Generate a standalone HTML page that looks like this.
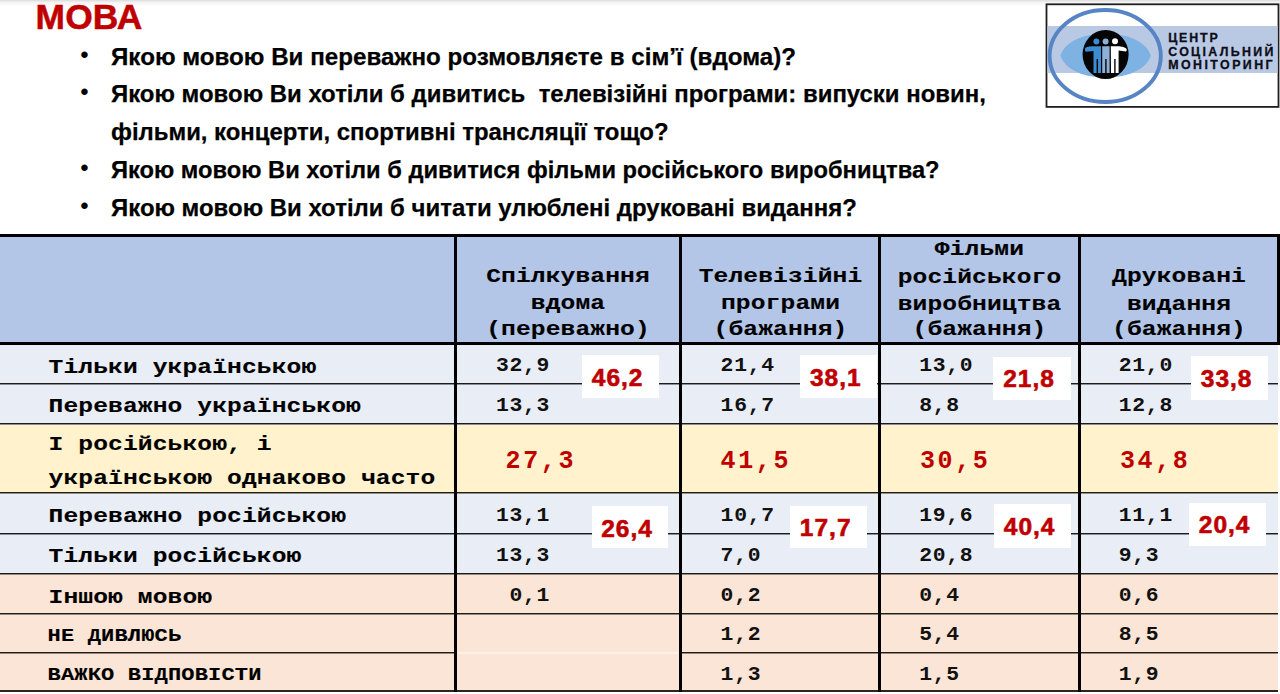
<!DOCTYPE html>
<html><head><meta charset="utf-8"><style>
html,body{margin:0;padding:0;}
body{width:1280px;height:694px;position:relative;overflow:hidden;background:#fff;}
</style></head><body>
<div style="position:absolute;left:0px;top:0px;width:1280px;height:6px;background:linear-gradient(#dcdcdc,#f4f4f4 40%,#fff);"></div>
<div style="position:absolute;left:35.6px;top:-1.64px;height:39.54px;line-height:39.54px;font-family:'Liberation Sans', sans-serif;font-size:35.4px;font-weight:bold;color:#C00000;letter-spacing:0.1px;white-space:pre;-webkit-text-stroke:0.5px #C00000;">МОВА</div>
<div style="position:absolute;left:80.6px;top:41.84px;height:25.13px;line-height:25.13px;font-family:'Liberation Sans', sans-serif;font-size:22.5px;font-weight:bold;color:#000;letter-spacing:0px;white-space:pre;">•</div>
<div style="position:absolute;left:110.6px;top:42.81px;height:27.14px;line-height:27.14px;font-family:'Liberation Sans', sans-serif;font-size:24.3px;font-weight:bold;color:#000;letter-spacing:0px;white-space:pre;transform:scale(0.9942,1);transform-origin:left 21.99px;-webkit-text-stroke:0.25px #000;">Якою мовою Ви переважно розмовляєте в сім’ї (вдома)?</div>
<div style="position:absolute;left:80.6px;top:79.44px;height:25.13px;line-height:25.13px;font-family:'Liberation Sans', sans-serif;font-size:22.5px;font-weight:bold;color:#000;letter-spacing:0px;white-space:pre;">•</div>
<div style="position:absolute;left:110.6px;top:80.41px;height:27.14px;line-height:27.14px;font-family:'Liberation Sans', sans-serif;font-size:24.3px;font-weight:bold;color:#000;letter-spacing:0px;white-space:pre;transform:scale(0.9853,1);transform-origin:left 21.99px;-webkit-text-stroke:0.25px #000;">Якою мовою Ви хотіли б дивитись  телевізійні програми: випуски новин,</div>
<div style="position:absolute;left:110.6px;top:118.01px;height:27.14px;line-height:27.14px;font-family:'Liberation Sans', sans-serif;font-size:24.3px;font-weight:bold;color:#000;letter-spacing:0px;white-space:pre;transform:scale(0.984,1);transform-origin:left 21.99px;-webkit-text-stroke:0.25px #000;">фільми, концерти, спортивні трансляції тощо?</div>
<div style="position:absolute;left:80.6px;top:155.44px;height:25.13px;line-height:25.13px;font-family:'Liberation Sans', sans-serif;font-size:22.5px;font-weight:bold;color:#000;letter-spacing:0px;white-space:pre;">•</div>
<div style="position:absolute;left:110.6px;top:156.41px;height:27.14px;line-height:27.14px;font-family:'Liberation Sans', sans-serif;font-size:24.3px;font-weight:bold;color:#000;letter-spacing:0px;white-space:pre;transform:scale(0.9752,1);transform-origin:left 21.99px;-webkit-text-stroke:0.25px #000;">Якою мовою Ви хотіли б дивитися фільми російського виробництва?</div>
<div style="position:absolute;left:80.6px;top:193.24px;height:25.13px;line-height:25.13px;font-family:'Liberation Sans', sans-serif;font-size:22.5px;font-weight:bold;color:#000;letter-spacing:0px;white-space:pre;">•</div>
<div style="position:absolute;left:110.6px;top:194.21px;height:27.14px;line-height:27.14px;font-family:'Liberation Sans', sans-serif;font-size:24.3px;font-weight:bold;color:#000;letter-spacing:0px;white-space:pre;transform:scale(0.9854,1);transform-origin:left 21.99px;-webkit-text-stroke:0.25px #000;">Якою мовою Ви хотіли б читати улюблені друковані видання?</div>
<svg style="position:absolute;left:1045px;top:2px" width="235" height="107" viewBox="1045 2 235 107">
<rect x="1046.5" y="4.3" width="232" height="102.6" fill="#fff" stroke="#1e1e1e" stroke-width="1.8"/>
<rect x="1047.5" y="26" width="230" height="47" fill="#B9C9E4"/>
<path d="M1060.5 55.5 C1069 26, 1142 26, 1150.8 55.5 C1142 85, 1069 85, 1060.5 55.5 Z" fill="#7EB2E2"/>
<ellipse cx="1105.2" cy="56" rx="55.6" ry="46" fill="none" stroke="#5784C4" stroke-width="3.9"/>
<ellipse cx="1105.6" cy="54.5" rx="23" ry="24.5" fill="#050505"/>
<g>
<circle cx="1096.4" cy="41.4" r="3" fill="#3C8CD4"/>
<circle cx="1105.6" cy="41.4" r="3" fill="#8DB0D6"/>
<circle cx="1115" cy="41.2" r="3" fill="#fff"/>
<path d="M1085 48.5 Q1086 46.5 1092 46.3 L1101 46.3 L1101 73 L1098 73 L1098 59 L1096.6 59 L1096.6 73 L1093.5 73 L1093.5 51 Q1088 51.5 1086 51.8 Q1084.6 51 1085 48.5Z" fill="#3C8CD4"/>
<path d="M1102.2 46.3 L1109.6 46.3 L1109.6 73 L1106.6 73 L1106.6 59 L1105.2 59 L1105.2 73 L1102.2 73Z" fill="#8DB0D6"/>
<path d="M1110.8 46.3 L1119 46.3 Q1124 46.8 1126.3 48.6 Q1127.5 50.5 1126 51.6 L1118.6 50.5 L1118.6 73 L1115.6 73 L1115.6 59 L1114.2 59 L1114.2 73 L1111 73 Z" fill="#fff"/>
</g>
</svg>
<div style="position:absolute;left:1168.2px;top:31.68px;height:13.85px;line-height:13.85px;font-family:'Liberation Sans', sans-serif;font-size:12.4px;font-weight:bold;color:#0d0d18;letter-spacing:1.85px;white-space:pre;-webkit-text-stroke:0.3px #0d0d18;">ЦЕНТР</div>
<div style="position:absolute;left:1168.2px;top:45.78px;height:13.85px;line-height:13.85px;font-family:'Liberation Sans', sans-serif;font-size:12.4px;font-weight:bold;color:#0d0d18;letter-spacing:2.33px;white-space:pre;-webkit-text-stroke:0.3px #0d0d18;">СОЦІАЛЬНИЙ</div>
<div style="position:absolute;left:1168.2px;top:59.38px;height:13.85px;line-height:13.85px;font-family:'Liberation Sans', sans-serif;font-size:12.4px;font-weight:bold;color:#0d0d18;letter-spacing:2.45px;white-space:pre;-webkit-text-stroke:0.3px #0d0d18;">МОНІТОРИНГ</div>
<div style="position:absolute;left:0px;top:237px;width:1278px;height:105px;background:#B4C6E7;"></div>
<div style="position:absolute;left:0px;top:344px;width:1278px;height:81px;background:#E9EDF6;"></div>
<div style="position:absolute;left:0px;top:425px;width:1278px;height:69px;background:#FFF2CC;"></div>
<div style="position:absolute;left:0px;top:494px;width:1278px;height:80px;background:#E9EDF6;"></div>
<div style="position:absolute;left:0px;top:574px;width:1278px;height:117px;background:#FBE5D6;"></div>
<div style="position:absolute;left:0px;top:234px;width:1280px;height:3px;background:#000;"></div>
<div style="position:absolute;left:0px;top:342px;width:1280px;height:3px;background:#000;"></div>
<div style="position:absolute;left:0px;top:383px;width:1278px;height:1px;background:#1c1c1c;"></div>
<div style="position:absolute;left:0px;top:384px;width:1278px;height:1px;background:rgba(0,0,0,0.4);"></div>
<div style="position:absolute;left:0px;top:423px;width:1278px;height:1px;background:#1c1c1c;"></div>
<div style="position:absolute;left:0px;top:424px;width:1278px;height:1px;background:rgba(0,0,0,0.4);"></div>
<div style="position:absolute;left:0px;top:492px;width:1278px;height:1px;background:#1c1c1c;"></div>
<div style="position:absolute;left:0px;top:493px;width:1278px;height:1px;background:rgba(0,0,0,0.4);"></div>
<div style="position:absolute;left:0px;top:533px;width:1278px;height:1px;background:#1c1c1c;"></div>
<div style="position:absolute;left:0px;top:534px;width:1278px;height:1px;background:rgba(0,0,0,0.4);"></div>
<div style="position:absolute;left:0px;top:573px;width:1278px;height:1px;background:#1c1c1c;"></div>
<div style="position:absolute;left:0px;top:574px;width:1278px;height:1px;background:rgba(0,0,0,0.4);"></div>
<div style="position:absolute;left:0px;top:613px;width:1278px;height:1px;background:#1c1c1c;"></div>
<div style="position:absolute;left:0px;top:614px;width:1278px;height:1px;background:rgba(0,0,0,0.4);"></div>
<div style="position:absolute;left:0px;top:652px;width:1278px;height:1px;background:#1c1c1c;"></div>
<div style="position:absolute;left:0px;top:653px;width:1278px;height:1px;background:rgba(0,0,0,0.4);"></div>
<div style="position:absolute;left:0px;top:690px;width:1278px;height:2px;background:#2a2624;"></div>
<div style="position:absolute;left:457px;top:652px;width:222px;height:2px;background:#fcf1e9;"></div>
<div style="position:absolute;left:454px;top:234px;width:3px;height:458px;background:#000;"></div>
<div style="position:absolute;left:679px;top:234px;width:3px;height:458px;background:#000;"></div>
<div style="position:absolute;left:878px;top:234px;width:3px;height:458px;background:#000;"></div>
<div style="position:absolute;left:1078px;top:234px;width:3px;height:458px;background:#000;"></div>
<div style="position:absolute;left:1277px;top:234px;width:3px;height:111px;background:#000;"></div>
<div style="position:absolute;left:-1432px;width:4000px;text-align:center;top:262.12px;height:27.87px;line-height:27.87px;font-family:'Liberation Mono', monospace;font-size:24.6px;font-weight:bold;color:#000;letter-spacing:0.12px;white-space:pre;transform:scale(1,0.8);transform-origin:center 20.48px;-webkit-text-stroke:0.15px #000;">Спілкування</div>
<div style="position:absolute;left:-1432px;width:4000px;text-align:center;top:289.32px;height:27.87px;line-height:27.87px;font-family:'Liberation Mono', monospace;font-size:24.6px;font-weight:bold;color:#000;letter-spacing:0.12px;white-space:pre;transform:scale(1,0.8);transform-origin:center 20.48px;-webkit-text-stroke:0.15px #000;">вдома</div>
<div style="position:absolute;left:-1432px;width:4000px;text-align:center;top:315.12px;height:27.87px;line-height:27.87px;font-family:'Liberation Mono', monospace;font-size:24.6px;font-weight:bold;color:#000;letter-spacing:0.12px;white-space:pre;transform:scale(1,0.8);transform-origin:center 20.48px;-webkit-text-stroke:0.15px #000;">(переважно)</div>
<div style="position:absolute;left:-1219.5px;width:4000px;text-align:center;top:262.12px;height:27.87px;line-height:27.87px;font-family:'Liberation Mono', monospace;font-size:24.6px;font-weight:bold;color:#000;letter-spacing:0.12px;white-space:pre;transform:scale(1,0.8);transform-origin:center 20.48px;-webkit-text-stroke:0.15px #000;">Телевізійні</div>
<div style="position:absolute;left:-1219.5px;width:4000px;text-align:center;top:289.32px;height:27.87px;line-height:27.87px;font-family:'Liberation Mono', monospace;font-size:24.6px;font-weight:bold;color:#000;letter-spacing:0.12px;white-space:pre;transform:scale(1,0.8);transform-origin:center 20.48px;-webkit-text-stroke:0.15px #000;">програми</div>
<div style="position:absolute;left:-1219.5px;width:4000px;text-align:center;top:315.12px;height:27.87px;line-height:27.87px;font-family:'Liberation Mono', monospace;font-size:24.6px;font-weight:bold;color:#000;letter-spacing:0.12px;white-space:pre;transform:scale(1,0.8);transform-origin:center 20.48px;-webkit-text-stroke:0.15px #000;">(бажання)</div>
<div style="position:absolute;left:-1020.5px;width:4000px;text-align:center;top:235.42px;height:27.87px;line-height:27.87px;font-family:'Liberation Mono', monospace;font-size:24.6px;font-weight:bold;color:#000;letter-spacing:0.12px;white-space:pre;transform:scale(1,0.8);transform-origin:center 20.48px;-webkit-text-stroke:0.15px #000;">Фільми</div>
<div style="position:absolute;left:-1020.5px;width:4000px;text-align:center;top:262.72px;height:27.87px;line-height:27.87px;font-family:'Liberation Mono', monospace;font-size:24.6px;font-weight:bold;color:#000;letter-spacing:0.12px;white-space:pre;transform:scale(1,0.8);transform-origin:center 20.48px;-webkit-text-stroke:0.15px #000;">російського</div>
<div style="position:absolute;left:-1020.5px;width:4000px;text-align:center;top:289.52px;height:27.87px;line-height:27.87px;font-family:'Liberation Mono', monospace;font-size:24.6px;font-weight:bold;color:#000;letter-spacing:0.12px;white-space:pre;transform:scale(1,0.8);transform-origin:center 20.48px;-webkit-text-stroke:0.15px #000;">виробництва</div>
<div style="position:absolute;left:-1020.5px;width:4000px;text-align:center;top:315.12px;height:27.87px;line-height:27.87px;font-family:'Liberation Mono', monospace;font-size:24.6px;font-weight:bold;color:#000;letter-spacing:0.12px;white-space:pre;transform:scale(1,0.8);transform-origin:center 20.48px;-webkit-text-stroke:0.15px #000;">(бажання)</div>
<div style="position:absolute;left:-821px;width:4000px;text-align:center;top:262.12px;height:27.87px;line-height:27.87px;font-family:'Liberation Mono', monospace;font-size:24.6px;font-weight:bold;color:#000;letter-spacing:0.12px;white-space:pre;transform:scale(1,0.8);transform-origin:center 20.48px;-webkit-text-stroke:0.15px #000;">Друковані</div>
<div style="position:absolute;left:-821px;width:4000px;text-align:center;top:289.52px;height:27.87px;line-height:27.87px;font-family:'Liberation Mono', monospace;font-size:24.6px;font-weight:bold;color:#000;letter-spacing:0.12px;white-space:pre;transform:scale(1,0.8);transform-origin:center 20.48px;-webkit-text-stroke:0.15px #000;">видання</div>
<div style="position:absolute;left:-821px;width:4000px;text-align:center;top:315.12px;height:27.87px;line-height:27.87px;font-family:'Liberation Mono', monospace;font-size:24.6px;font-weight:bold;color:#000;letter-spacing:0.12px;white-space:pre;transform:scale(1,0.8);transform-origin:center 20.48px;-webkit-text-stroke:0.15px #000;">(бажання)</div>
<div style="position:absolute;left:48.5px;top:353.32px;height:27.87px;line-height:27.87px;font-family:'Liberation Mono', monospace;font-size:24.6px;font-weight:bold;color:#000;letter-spacing:0.12px;white-space:pre;transform:scale(1,0.8);transform-origin:left 20.48px;-webkit-text-stroke:0.15px #000;">Тільки українською</div>
<div style="position:absolute;left:48.5px;top:392.32px;height:27.87px;line-height:27.87px;font-family:'Liberation Mono', monospace;font-size:24.6px;font-weight:bold;color:#000;letter-spacing:0.12px;white-space:pre;transform:scale(1,0.8);transform-origin:left 20.48px;-webkit-text-stroke:0.15px #000;">Переважно українською</div>
<div style="position:absolute;left:48.5px;top:430.12px;height:27.87px;line-height:27.87px;font-family:'Liberation Mono', monospace;font-size:24.6px;font-weight:bold;color:#000;letter-spacing:0.12px;white-space:pre;transform:scale(1,0.8);transform-origin:left 20.48px;-webkit-text-stroke:0.15px #000;">I російською, і</div>
<div style="position:absolute;left:48.5px;top:463.92px;height:27.87px;line-height:27.87px;font-family:'Liberation Mono', monospace;font-size:24.6px;font-weight:bold;color:#000;letter-spacing:0.12px;white-space:pre;transform:scale(1,0.8);transform-origin:left 20.48px;-webkit-text-stroke:0.15px #000;">українською однаково часто</div>
<div style="position:absolute;left:48.5px;top:501.82px;height:27.87px;line-height:27.87px;font-family:'Liberation Mono', monospace;font-size:24.6px;font-weight:bold;color:#000;letter-spacing:0.12px;white-space:pre;transform:scale(1,0.8);transform-origin:left 20.48px;-webkit-text-stroke:0.15px #000;">Переважно російською</div>
<div style="position:absolute;left:48.5px;top:542.12px;height:27.87px;line-height:27.87px;font-family:'Liberation Mono', monospace;font-size:24.6px;font-weight:bold;color:#000;letter-spacing:0.12px;white-space:pre;transform:scale(1,0.8);transform-origin:left 20.48px;-webkit-text-stroke:0.15px #000;">Тільки російською</div>
<div style="position:absolute;left:48.5px;top:582.72px;height:27.87px;line-height:27.87px;font-family:'Liberation Mono', monospace;font-size:24.6px;font-weight:bold;color:#000;letter-spacing:0.12px;white-space:pre;transform:scale(1,0.8);transform-origin:left 20.48px;-webkit-text-stroke:0.15px #000;">Іншою мовою</div>
<div style="position:absolute;left:47.5px;top:623.68px;height:24.92px;line-height:24.92px;font-family:'Liberation Mono', monospace;font-size:22px;font-weight:bold;color:#000;letter-spacing:0.18px;white-space:pre;transform:scale(1,0.8);transform-origin:left 18.32px;-webkit-text-stroke:0.15px #000;">НЕ ДИВЛЮСЬ</div>
<div style="position:absolute;left:47.5px;top:662.68px;height:24.92px;line-height:24.92px;font-family:'Liberation Mono', monospace;font-size:22px;font-weight:bold;color:#000;letter-spacing:0.18px;white-space:pre;transform:scale(1,0.8);transform-origin:left 18.32px;-webkit-text-stroke:0.15px #000;">ВАЖКО ВІДПОВІСТИ</div>
<div style="position:absolute;left:496px;top:353.18px;height:24.24px;line-height:24.24px;font-family:'Liberation Mono', monospace;font-size:21.4px;font-weight:bold;color:#111;letter-spacing:0.7px;white-space:pre;transform:scale(1,0.93);transform-origin:left 17.82px;">32,9</div>
<div style="position:absolute;left:720.6px;top:353.18px;height:24.24px;line-height:24.24px;font-family:'Liberation Mono', monospace;font-size:21.4px;font-weight:bold;color:#111;letter-spacing:0.7px;white-space:pre;transform:scale(1,0.93);transform-origin:left 17.82px;">21,4</div>
<div style="position:absolute;left:919.2px;top:353.18px;height:24.24px;line-height:24.24px;font-family:'Liberation Mono', monospace;font-size:21.4px;font-weight:bold;color:#111;letter-spacing:0.7px;white-space:pre;transform:scale(1,0.93);transform-origin:left 17.82px;">13,0</div>
<div style="position:absolute;left:1118.8px;top:353.18px;height:24.24px;line-height:24.24px;font-family:'Liberation Mono', monospace;font-size:21.4px;font-weight:bold;color:#111;letter-spacing:0.7px;white-space:pre;transform:scale(1,0.93);transform-origin:left 17.82px;">21,0</div>
<div style="position:absolute;left:496px;top:393.38px;height:24.24px;line-height:24.24px;font-family:'Liberation Mono', monospace;font-size:21.4px;font-weight:bold;color:#111;letter-spacing:0.7px;white-space:pre;transform:scale(1,0.93);transform-origin:left 17.82px;">13,3</div>
<div style="position:absolute;left:720.6px;top:393.38px;height:24.24px;line-height:24.24px;font-family:'Liberation Mono', monospace;font-size:21.4px;font-weight:bold;color:#111;letter-spacing:0.7px;white-space:pre;transform:scale(1,0.93);transform-origin:left 17.82px;">16,7</div>
<div style="position:absolute;left:919.2px;top:393.38px;height:24.24px;line-height:24.24px;font-family:'Liberation Mono', monospace;font-size:21.4px;font-weight:bold;color:#111;letter-spacing:0.7px;white-space:pre;transform:scale(1,0.93);transform-origin:left 17.82px;">8,8</div>
<div style="position:absolute;left:1118.8px;top:393.38px;height:24.24px;line-height:24.24px;font-family:'Liberation Mono', monospace;font-size:21.4px;font-weight:bold;color:#111;letter-spacing:0.7px;white-space:pre;transform:scale(1,0.93);transform-origin:left 17.82px;">12,8</div>
<div style="position:absolute;left:496px;top:502.98px;height:24.24px;line-height:24.24px;font-family:'Liberation Mono', monospace;font-size:21.4px;font-weight:bold;color:#111;letter-spacing:0.7px;white-space:pre;transform:scale(1,0.93);transform-origin:left 17.82px;">13,1</div>
<div style="position:absolute;left:720.6px;top:502.98px;height:24.24px;line-height:24.24px;font-family:'Liberation Mono', monospace;font-size:21.4px;font-weight:bold;color:#111;letter-spacing:0.7px;white-space:pre;transform:scale(1,0.93);transform-origin:left 17.82px;">10,7</div>
<div style="position:absolute;left:919.2px;top:502.98px;height:24.24px;line-height:24.24px;font-family:'Liberation Mono', monospace;font-size:21.4px;font-weight:bold;color:#111;letter-spacing:0.7px;white-space:pre;transform:scale(1,0.93);transform-origin:left 17.82px;">19,6</div>
<div style="position:absolute;left:1118.8px;top:502.98px;height:24.24px;line-height:24.24px;font-family:'Liberation Mono', monospace;font-size:21.4px;font-weight:bold;color:#111;letter-spacing:0.7px;white-space:pre;transform:scale(1,0.93);transform-origin:left 17.82px;">11,1</div>
<div style="position:absolute;left:496px;top:542.78px;height:24.24px;line-height:24.24px;font-family:'Liberation Mono', monospace;font-size:21.4px;font-weight:bold;color:#111;letter-spacing:0.7px;white-space:pre;transform:scale(1,0.93);transform-origin:left 17.82px;">13,3</div>
<div style="position:absolute;left:720.6px;top:542.78px;height:24.24px;line-height:24.24px;font-family:'Liberation Mono', monospace;font-size:21.4px;font-weight:bold;color:#111;letter-spacing:0.7px;white-space:pre;transform:scale(1,0.93);transform-origin:left 17.82px;">7,0</div>
<div style="position:absolute;left:919.2px;top:542.78px;height:24.24px;line-height:24.24px;font-family:'Liberation Mono', monospace;font-size:21.4px;font-weight:bold;color:#111;letter-spacing:0.7px;white-space:pre;transform:scale(1,0.93);transform-origin:left 17.82px;">20,8</div>
<div style="position:absolute;left:1118.8px;top:542.78px;height:24.24px;line-height:24.24px;font-family:'Liberation Mono', monospace;font-size:21.4px;font-weight:bold;color:#111;letter-spacing:0.7px;white-space:pre;transform:scale(1,0.93);transform-origin:left 17.82px;">9,3</div>
<div style="position:absolute;left:496px;top:582.78px;height:24.24px;line-height:24.24px;font-family:'Liberation Mono', monospace;font-size:21.4px;font-weight:bold;color:#111;letter-spacing:0.7px;white-space:pre;transform:scale(1,0.93);transform-origin:left 17.82px;"> 0,1</div>
<div style="position:absolute;left:720.6px;top:582.78px;height:24.24px;line-height:24.24px;font-family:'Liberation Mono', monospace;font-size:21.4px;font-weight:bold;color:#111;letter-spacing:0.7px;white-space:pre;transform:scale(1,0.93);transform-origin:left 17.82px;">0,2</div>
<div style="position:absolute;left:919.2px;top:582.78px;height:24.24px;line-height:24.24px;font-family:'Liberation Mono', monospace;font-size:21.4px;font-weight:bold;color:#111;letter-spacing:0.7px;white-space:pre;transform:scale(1,0.93);transform-origin:left 17.82px;">0,4</div>
<div style="position:absolute;left:1118.8px;top:582.78px;height:24.24px;line-height:24.24px;font-family:'Liberation Mono', monospace;font-size:21.4px;font-weight:bold;color:#111;letter-spacing:0.7px;white-space:pre;transform:scale(1,0.93);transform-origin:left 17.82px;">0,6</div>
<div style="position:absolute;left:720.6px;top:622.18px;height:24.24px;line-height:24.24px;font-family:'Liberation Mono', monospace;font-size:21.4px;font-weight:bold;color:#111;letter-spacing:0.7px;white-space:pre;transform:scale(1,0.93);transform-origin:left 17.82px;">1,2</div>
<div style="position:absolute;left:919.2px;top:622.18px;height:24.24px;line-height:24.24px;font-family:'Liberation Mono', monospace;font-size:21.4px;font-weight:bold;color:#111;letter-spacing:0.7px;white-space:pre;transform:scale(1,0.93);transform-origin:left 17.82px;">5,4</div>
<div style="position:absolute;left:1118.8px;top:622.18px;height:24.24px;line-height:24.24px;font-family:'Liberation Mono', monospace;font-size:21.4px;font-weight:bold;color:#111;letter-spacing:0.7px;white-space:pre;transform:scale(1,0.93);transform-origin:left 17.82px;">8,5</div>
<div style="position:absolute;left:720.6px;top:661.78px;height:24.24px;line-height:24.24px;font-family:'Liberation Mono', monospace;font-size:21.4px;font-weight:bold;color:#111;letter-spacing:0.7px;white-space:pre;transform:scale(1,0.93);transform-origin:left 17.82px;">1,3</div>
<div style="position:absolute;left:919.2px;top:661.78px;height:24.24px;line-height:24.24px;font-family:'Liberation Mono', monospace;font-size:21.4px;font-weight:bold;color:#111;letter-spacing:0.7px;white-space:pre;transform:scale(1,0.93);transform-origin:left 17.82px;">1,5</div>
<div style="position:absolute;left:1118.8px;top:661.78px;height:24.24px;line-height:24.24px;font-family:'Liberation Mono', monospace;font-size:21.4px;font-weight:bold;color:#111;letter-spacing:0.7px;white-space:pre;transform:scale(1,0.93);transform-origin:left 17.82px;">1,9</div>
<div style="position:absolute;left:505.6px;top:447.99px;height:28.32px;line-height:28.32px;font-family:'Liberation Mono', monospace;font-size:25px;font-weight:bold;color:#C00000;letter-spacing:2.6px;white-space:pre;">27,3</div>
<div style="position:absolute;left:720.6px;top:447.99px;height:28.32px;line-height:28.32px;font-family:'Liberation Mono', monospace;font-size:25px;font-weight:bold;color:#C00000;letter-spacing:2.6px;white-space:pre;">41,5</div>
<div style="position:absolute;left:920px;top:447.99px;height:28.32px;line-height:28.32px;font-family:'Liberation Mono', monospace;font-size:25px;font-weight:bold;color:#C00000;letter-spacing:2.6px;white-space:pre;">30,5</div>
<div style="position:absolute;left:1120px;top:447.99px;height:28.32px;line-height:28.32px;font-family:'Liberation Mono', monospace;font-size:25px;font-weight:bold;color:#C00000;letter-spacing:2.6px;white-space:pre;">34,8</div>
<div style="position:absolute;left:582px;top:355px;width:77px;height:43px;background:#fff;"></div>
<div style="position:absolute;left:-1382.4px;width:4000px;text-align:center;top:364.23px;height:27.37px;line-height:27.37px;font-family:'Liberation Sans', sans-serif;font-size:24.5px;font-weight:bold;color:#C00000;letter-spacing:1.0px;white-space:pre;-webkit-text-stroke:0.6px #C00000;">46,2</div>
<div style="position:absolute;left:800px;top:355px;width:77px;height:43px;background:#fff;"></div>
<div style="position:absolute;left:-1164.25px;width:4000px;text-align:center;top:363.83px;height:27.37px;line-height:27.37px;font-family:'Liberation Sans', sans-serif;font-size:24.5px;font-weight:bold;color:#C00000;letter-spacing:1.0px;white-space:pre;-webkit-text-stroke:0.6px #C00000;">38,1</div>
<div style="position:absolute;left:993px;top:357px;width:78px;height:43px;background:#fff;"></div>
<div style="position:absolute;left:-970.9500000000003px;width:4000px;text-align:center;top:365.03px;height:27.37px;line-height:27.37px;font-family:'Liberation Sans', sans-serif;font-size:24.5px;font-weight:bold;color:#C00000;letter-spacing:1.0px;white-space:pre;-webkit-text-stroke:0.6px #C00000;">21,8</div>
<div style="position:absolute;left:1191px;top:356px;width:77px;height:44px;background:#fff;"></div>
<div style="position:absolute;left:-773.4000000000001px;width:4000px;text-align:center;top:365.03px;height:27.37px;line-height:27.37px;font-family:'Liberation Sans', sans-serif;font-size:24.5px;font-weight:bold;color:#C00000;letter-spacing:1.0px;white-space:pre;-webkit-text-stroke:0.6px #C00000;">33,8</div>
<div style="position:absolute;left:592px;top:506px;width:76px;height:42px;background:#fff;"></div>
<div style="position:absolute;left:-1372.9499999999998px;width:4000px;text-align:center;top:514.73px;height:27.37px;line-height:27.37px;font-family:'Liberation Sans', sans-serif;font-size:24.5px;font-weight:bold;color:#C00000;letter-spacing:1.0px;white-space:pre;-webkit-text-stroke:0.6px #C00000;">26,4</div>
<div style="position:absolute;left:790px;top:506px;width:77px;height:42px;background:#fff;"></div>
<div style="position:absolute;left:-1174.3000000000002px;width:4000px;text-align:center;top:513.83px;height:27.37px;line-height:27.37px;font-family:'Liberation Sans', sans-serif;font-size:24.5px;font-weight:bold;color:#C00000;letter-spacing:1.0px;white-space:pre;-webkit-text-stroke:0.6px #C00000;">17,7</div>
<div style="position:absolute;left:994px;top:504px;width:77px;height:44px;background:#fff;"></div>
<div style="position:absolute;left:-970.4000000000001px;width:4000px;text-align:center;top:513.13px;height:27.37px;line-height:27.37px;font-family:'Liberation Sans', sans-serif;font-size:24.5px;font-weight:bold;color:#C00000;letter-spacing:1.0px;white-space:pre;-webkit-text-stroke:0.6px #C00000;">40,4</div>
<div style="position:absolute;left:1189px;top:503px;width:77px;height:43px;background:#fff;"></div>
<div style="position:absolute;left:-775.4000000000001px;width:4000px;text-align:center;top:511.03px;height:27.37px;line-height:27.37px;font-family:'Liberation Sans', sans-serif;font-size:24.5px;font-weight:bold;color:#C00000;letter-spacing:1.0px;white-space:pre;-webkit-text-stroke:0.6px #C00000;">20,4</div>
</body></html>
